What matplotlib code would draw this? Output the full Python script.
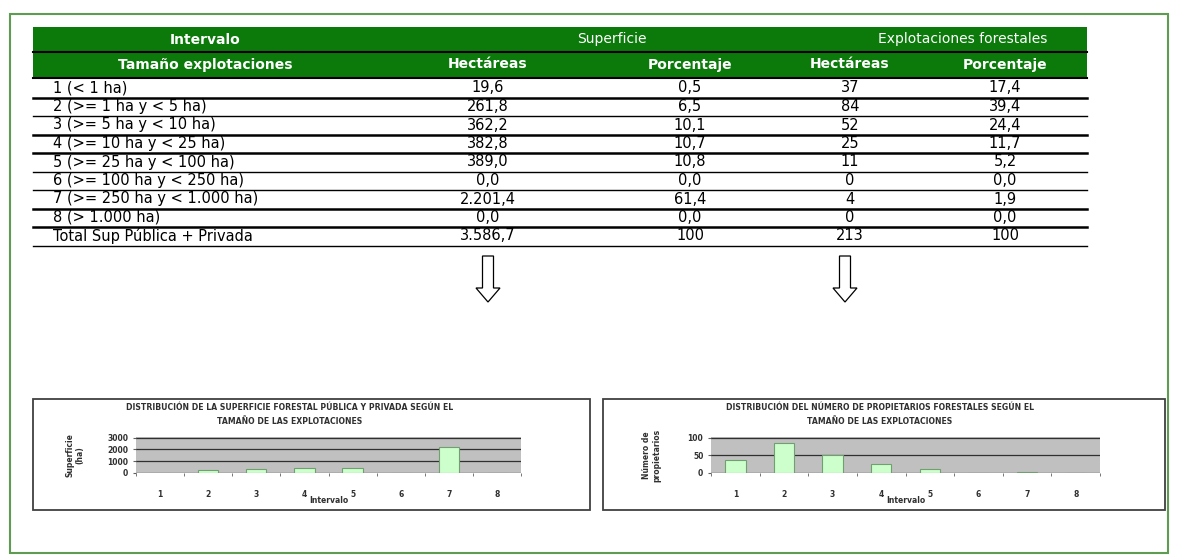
import numpy as np
import matplotlib.pyplot as plt
from matplotlib.patches import Rectangle, FancyArrow

plt.rcParams['font.family'] = ['DejaVu Sans']

# datos de la tabla
intervalos = ['1 (< 1 ha)', '2 (>= 1 ha y < 5 ha)', '3 (>= 5 ha y < 10 ha)',
              '4 (>= 10 ha y < 25 ha)', '5 (>= 25 ha y < 100 ha)',
              '6 (>= 100 ha y < 250 ha)', '7 (>= 250 ha y < 1.000 ha)',
              '8 (> 1.000 ha)']
sup_ha = [19.6, 261.8, 362.2, 382.8, 389.0, 0.0, 2201.4, 0.0]
sup_pct = [0.5, 6.5, 10.1, 10.7, 10.8, 0.0, 61.4, 0.0]
expl_n = [37, 84, 52, 25, 11, 0, 4, 0]
expl_pct = [17.4, 39.4, 24.4, 11.7, 5.2, 0.0, 1.9, 0.0]
total_label = 'Total Sup Pública + Privada'
total_vals = ['3.586,7', '100', '213', '100']

ticks_x = ['1', '2', '3', '4', '5', '6', '7', '8']
titulo_sup = 'DISTRIBUCIÓN DE LA SUPERFICIE FORESTAL PÚBLICA Y PRIVADA SEGÚN EL\nTAMAÑO DE LAS EXPLOTACIONES'
titulo_prop = 'DISTRIBUCIÓN DEL NÚMERO DE PROPIETARIOS FORESTALES SEGÚN EL\nTAMAÑO DE LAS EXPLOTACIONES'


def fmt(v, dec=1):
    s = f"{v:,.{dec}f}"
    return s.replace(',', 'X').replace('.', ',').replace('X', '.')


fig = plt.figure(figsize=(11.79, 5.6), dpi=100)
bg = fig.add_axes([0, 0, 1, 1])
bg.set_xlim(0, 1179)
bg.set_ylim(560, 0)
bg.axis('off')

# marco verde
bg.add_patch(Rectangle((10, 14), 1158, 539, fill=False, ec='#5e9c52', lw=1.5))

# cabecera
x0, x1 = 33, 1087
green = '#0b7a0b'
bg.add_patch(Rectangle((x0, 27), x1 - x0, 51, fc=green, ec='none'))
bg.plot([x0, x1], [52, 52], color='black', lw=1.5)
bg.plot([x0, x1], [77.5, 77.5], color='black', lw=1.5)
col_c = [205, 488, 690, 850, 1005]
hkw = dict(color='white', fontsize=10, ha='center', va='center')
bg.text(205, 39.5, 'Intervalo', fontweight='bold', **hkw)
bg.text(612, 39.5, 'Superficie', **hkw)
bg.text(963, 39.5, 'Explotaciones forestales', **hkw)
for c, t in zip(col_c, ['Tamaño explotaciones', 'Hectáreas', 'Porcentaje',
                        'Hectáreas', 'Porcentaje']):
    bg.text(c, 64.5, t, fontweight='bold', **hkw)

# filas
y_start, step = 88, 18.5
thick = [True, False, True, True, False, False, True, True, False]
tkw = dict(color='black', fontsize=10.5, va='center')
for i in range(len(intervalos)):
    y = y_start + i * step
    bg.text(53, y, intervalos[i], ha='left', **tkw)
    bg.text(col_c[1], y, fmt(sup_ha[i]), ha='center', **tkw)
    bg.text(col_c[2], y, fmt(sup_pct[i]), ha='center', **tkw)
    bg.text(col_c[3], y, str(expl_n[i]), ha='center', **tkw)
    bg.text(col_c[4], y, fmt(expl_pct[i]), ha='center', **tkw)
yt = y_start + len(intervalos) * step
bg.text(53, yt, total_label, ha='left', **tkw)
for c, t in zip(col_c[1:], total_vals):
    bg.text(c, yt, t, ha='center', **tkw)
for i, tk in enumerate(thick):
    yl = y_start + i * step + 9.5
    bg.plot([x0, x1], [yl, yl], color='black', lw=1.8 if tk else 1.0)

# flechas
for xa in [col_c[1], 845]:
    bg.add_patch(FancyArrow(xa, 256, 0, 46, width=11, head_width=24,
                            head_length=14, length_includes_head=True,
                            fc='white', ec='black', lw=0.9))

# recuadros de los graficos
bg.add_patch(Rectangle((33, 399), 557, 111, fc='white', ec='#404040', lw=1.3))
bg.add_patch(Rectangle((603, 399), 562, 111, fc='white', ec='#404040', lw=1.3))


def small_chart(rect, values, ymax, yticks, title, ylabel, tx, ylx):
    ax = fig.add_axes(rect)
    x = np.arange(1, len(values) + 1)
    ax.set_facecolor('#c0c0c0')
    for yv in yticks:
        ax.axhline(yv, color='#303030', lw=0.9, zorder=1)
    ax.bar(x, values, width=0.42, color='#ccffcc', edgecolor='#70a070',
           lw=0.8, zorder=2)
    ax.set_xlim(0.5, len(values) + 0.5)
    ax.set_ylim(0, ymax * 1.02)
    ax.set_yticks(yticks)
    ax.set_xticks(x)
    ax.set_xticklabels(ticks_x)
    ax.set_xticks(np.arange(0.5, len(values) + 1, 1), minor=True)
    ax.tick_params(axis='x', which='major', length=0, labelsize=5.5, pad=12)
    ax.tick_params(axis='x', which='minor', length=2.5, color='#606060')
    ax.tick_params(axis='y', length=2.5, labelsize=5.5, pad=3, color='#606060')
    for lab in ax.get_xticklabels() + ax.get_yticklabels():
        lab.set_fontweight('bold')
        lab.set_color('#303030')
    for s in ax.spines.values():
        s.set_visible(False)
    ax.set_xlabel('Intervalo', fontsize=5.5, labelpad=-2, fontweight='bold',
                  color='#303030')
    fig.text(tx, 1 - 403 / 560, title, fontsize=5.6, fontweight='bold',
             ha='center', va='top', color='#303030', linespacing=1.7)
    fig.text(ylx, 1 - 455 / 560, ylabel, fontsize=5.5, rotation=90,
             ha='center', va='center', color='#303030', fontweight='bold')
    return ax


small_chart([136 / 1179, 1 - 473 / 560, 385 / 1179, 36 / 560], sup_ha, 3000,
            [0, 1000, 2000, 3000], titulo_sup, 'Superficie\n(ha)',
            290 / 1179, 75 / 1179)
small_chart([711 / 1179, 1 - 473 / 560, 389 / 1179, 36 / 560], expl_n, 100,
            [0, 50, 100], titulo_prop, 'Número de\npropietarios',
            880 / 1179, 652 / 1179)

fig.savefig('out.png', dpi=100)
